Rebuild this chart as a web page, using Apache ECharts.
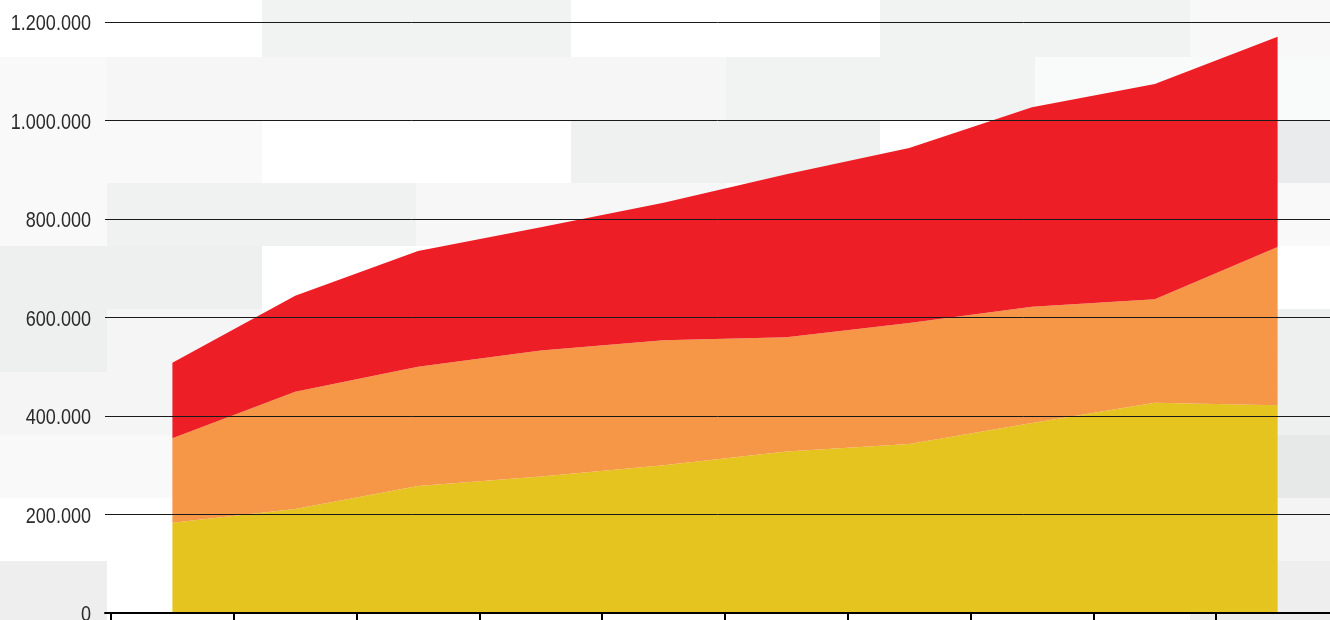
<!DOCTYPE html>
<html>
<head>
<meta charset="utf-8">
<script src="https://cdn.jsdelivr.net/npm/echarts@6/dist/echarts.min.js"></script>
<style>
  html, body { margin: 0; padding: 0; background: #fff; }
  #chart { width: 1330px; height: 620px; }
</style>
</head>
<body>
<div id="chart"></div>
<script>
// categories (no labels shown on the axis)
const categories = ['1', '2', '3', '4', '5', '6', '7', '8', '9', '10']

// stacked layers, bottom to top
const yellowValues = [183000, 211000, 258000, 277000, 300000, 328000, 343000, 386000, 427000, 422000]
const orangeValues = [172000, 238000, 242000, 256000, 254000, 232000, 246000, 236000, 210000, 321000]
const redValues = [153000, 195000, 235000, 250000, 279000, 331000, 355000, 405000, 437000, 427000]

const yMin = 0
const yMax = 1200000
const yStep = 200000
const yTicks = [0, 200000, 400000, 600000, 800000, 1000000, 1200000]

// light grey mosaic behind the chart: [x0, y0, x1, y1, colour]
const bgTiles = [
  [262, 0, 571, 57, '#f1f2f2'], [880, 0, 1190, 57, '#f1f2f2'], [1190, 0, 1330, 57, '#f8f8f8'],
  [0, 57, 107, 120, '#f9f9f9'], [107, 57, 726, 120, '#f6f6f6'], [726, 57, 1035, 120, '#f1f2f2'], [1035, 57, 1330, 120, '#f9fafa'],
  [0, 120, 262, 183, '#f9f9f9'], [571, 120, 880, 183, '#eff0f0'], [1190, 120, 1330, 183, '#eaebec'],
  [0, 183, 107, 246, '#f9f9f9'], [107, 183, 416, 246, '#f0f1f1'], [416, 183, 726, 246, '#f7f7f7'], [1190, 183, 1330, 246, '#f9f9f9'],
  [0, 246, 262, 309, '#eeefef'],
  [0, 309, 107, 372, '#eeefef'], [107, 309, 262, 372, '#f5f5f5'], [1190, 309, 1330, 372, '#eeefef'],
  [0, 372, 262, 435, '#f5f5f5'], [1190, 372, 1330, 435, '#eeefef'],
  [0, 435, 262, 498, '#f9f9f9'], [1190, 435, 1330, 498, '#e7e8e8'],
  [1190, 498, 1330, 561, '#f4f4f4'],
  [0, 561, 107, 620, '#eeeeee'], [1190, 561, 1330, 620, '#eeeeee']
]

// 1.200.000 style numbers
function fmt(v) {
  return String(v).replace(/\B(?=(\d{3})+(?!\d))/g, '.')
}

const chart = echarts.init(document.getElementById('chart'))

const tileGraphics = bgTiles.map(t => ({
  type: 'rect',
  silent: true,
  z: -10,
  shape: { x: t[0], y: t[1], width: t[2] - t[0], height: t[3] - t[1] },
  style: { fill: t[4] }
}))

const option = {
  animation: false,
  backgroundColor: '#fff',
  graphic: tileGraphics,
  grid: [
    // grid lines + baseline, drawn over the areas
    { left: 105, right: 0, top: 22, bottom: 7 },
    // data grid (runs a little past the right edge, so don't clamp it)
    { left: 111, width: 1228, top: 22, bottom: 7, outerBoundsMode: 'none', containLabel: false }
  ],
  xAxis: [
    {
      gridIndex: 0,
      type: 'category',
      data: [''],
      z: 5,
      axisLine: { show: true, lineStyle: { color: '#000', width: 2 } },
      axisTick: { show: false },
      axisLabel: { show: false }
    },
    {
      gridIndex: 1,
      type: 'category',
      data: categories,
      boundaryGap: true,
      z: 5,
      axisLine: { show: false },
      axisTick: { show: true, length: 9, lineStyle: { color: '#000', width: 2 } },
      axisLabel: { show: false }
    }
  ],
  yAxis: [
    {
      gridIndex: 0,
      type: 'value',
      min: yMin,
      max: yMax,
      interval: yStep,
      z: 5,
      axisLine: { show: false },
      axisTick: { show: false },
      // labels are drawn below as condensed text
      axisLabel: { show: false },
      splitLine: { show: true, lineStyle: { color: '#1a1a1a', width: 1 } }
    },
    {
      gridIndex: 1,
      type: 'value',
      min: yMin,
      max: yMax,
      interval: yStep,
      show: false,
      splitLine: { show: false }
    }
  ],
  series: [
    {
      name: 'yellow',
      type: 'line',
      stack: 'total',
      xAxisIndex: 1,
      yAxisIndex: 1,
      data: yellowValues,
      symbol: 'none',
      lineStyle: { width: 0 },
      areaStyle: { color: '#e6c41f', opacity: 1 }
    },
    {
      name: 'orange',
      type: 'line',
      stack: 'total',
      xAxisIndex: 1,
      yAxisIndex: 1,
      data: orangeValues,
      symbol: 'none',
      lineStyle: { width: 0 },
      areaStyle: { color: '#f69647', opacity: 1 }
    },
    {
      name: 'red',
      type: 'line',
      stack: 'total',
      xAxisIndex: 1,
      yAxisIndex: 1,
      data: redValues,
      symbol: 'none',
      lineStyle: { width: 0 },
      areaStyle: { color: '#ed1e26', opacity: 1 }
    }
  ]
}

chart.setOption(option)

// no narrow font installed, so squeeze the tick labels horizontally
const labelGraphics = yTicks.map(v => ({
  type: 'text',
  silent: true,
  z: 10,
  x: 91,
  y: chart.convertToPixel({ yAxisIndex: 0 }, v) + 2,
  scaleX: 0.82,
  style: {
    text: fmt(v),
    fill: '#2b2b2b',
    fontFamily: "'Liberation Sans', Arial, sans-serif",
    fontSize: 22,
    align: 'right',
    verticalAlign: 'middle'
  }
}))

chart.setOption({ graphic: tileGraphics.concat(labelGraphics) })
</script>
</body>
</html>
